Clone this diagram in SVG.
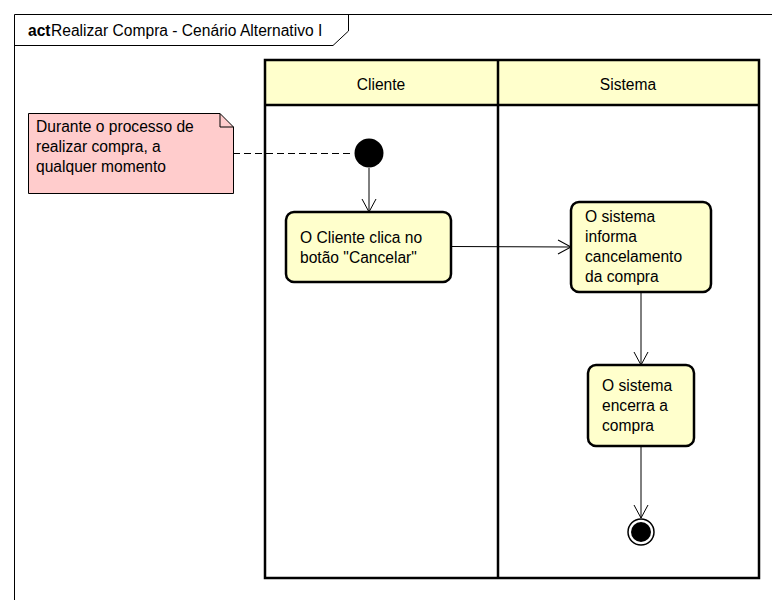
<svg xmlns="http://www.w3.org/2000/svg" width="772" height="600" viewBox="0 0 772 600">
<defs>
<style>
text{font-family:"Liberation Sans",Arial,sans-serif;font-size:15.6px;fill:#000}
.act{fill:#FFFFCC;stroke:#000;stroke-width:2.5}
.ln{stroke:#000;stroke-width:1;fill:none}
.lane{stroke:#000;stroke-width:2.5;fill:none}
</style>
<marker id="open" markerWidth="16" markerHeight="16" refX="14" refY="8" orient="auto" markerUnits="userSpaceOnUse">
<path d="M1,1 L14,8 L1,15" fill="none" stroke="#000" stroke-width="1"/>
</marker>
</defs>
<rect width="772" height="600" fill="#fff"/>
<g id="frame">
<path d="M14.5,600 L14.5,14.5 L772,14.5" class="ln"/>
<path d="M14.5,45.5 L333,45.5 L348.5,31 L348.5,14.5" class="ln"/>
<text x="28" y="36"><tspan font-weight="bold">act</tspan><tspan x="51">Realizar Compra - Cenário Alternativo I</tspan></text>
</g>
<g id="lanes">
<rect x="265" y="60" width="494" height="45" fill="#FFFFCC"/>
<rect x="265" y="60" width="494" height="518" class="lane"/>
<line x1="265" y1="105" x2="759" y2="105" class="lane"/>
<line x1="498" y1="60" x2="498" y2="578" class="lane"/>
<text x="381" y="90" text-anchor="middle">Cliente</text>
<text x="628" y="90" text-anchor="middle">Sistema</text>
</g>
<g id="connectors">
<line x1="233" y1="153.5" x2="354" y2="153.5" stroke="#000" stroke-dasharray="7,4"/>
<line x1="369" y1="168" x2="369" y2="212" class="ln" marker-end="url(#open)"/>
<line x1="451" y1="246.5" x2="571" y2="247" class="ln" marker-end="url(#open)"/>
<line x1="641" y1="292" x2="641" y2="365" class="ln" marker-end="url(#open)"/>
<line x1="641" y1="446" x2="641" y2="518" class="ln" marker-end="url(#open)"/>
</g>
<g id="note">
<path d="M28.5,113.5 L220,113.5 L233.5,127 L233.5,193.5 L28.5,193.5 Z" fill="#FFCCCC" stroke="#000" stroke-width="1"/>
<path d="M220,113.5 L220,127 L233.5,127" class="ln"/>
<text x="36" y="132">Durante o processo de</text>
<text x="36" y="152">realizar compra, a</text>
<text x="36" y="172">qualquer momento</text>
</g>
<g id="start">
<circle cx="369" cy="153" r="14.5" fill="#000"/>
</g>
<g id="a1">
<rect x="286" y="212" width="165" height="70" rx="8" class="act"/>
<text x="300" y="243">O Cliente clica no</text>
<text x="300" y="263">botão "Cancelar"</text>
</g>
<g id="a2">
<rect x="571" y="202" width="140" height="90" rx="8" class="act"/>
<text x="585" y="222">O sistema</text>
<text x="585" y="242">informa</text>
<text x="585" y="262">cancelamento</text>
<text x="585" y="282">da compra</text>
</g>
<g id="a3">
<rect x="588" y="365" width="106" height="81" rx="8" class="act"/>
<text x="602" y="391">O sistema</text>
<text x="602" y="411">encerra a</text>
<text x="602" y="431">compra</text>
</g>
<g id="end">
<circle cx="641" cy="532" r="13" fill="#fff" stroke="#000" stroke-width="1.5"/>
<circle cx="641" cy="532" r="10" fill="#000"/>
</g>
</svg>
